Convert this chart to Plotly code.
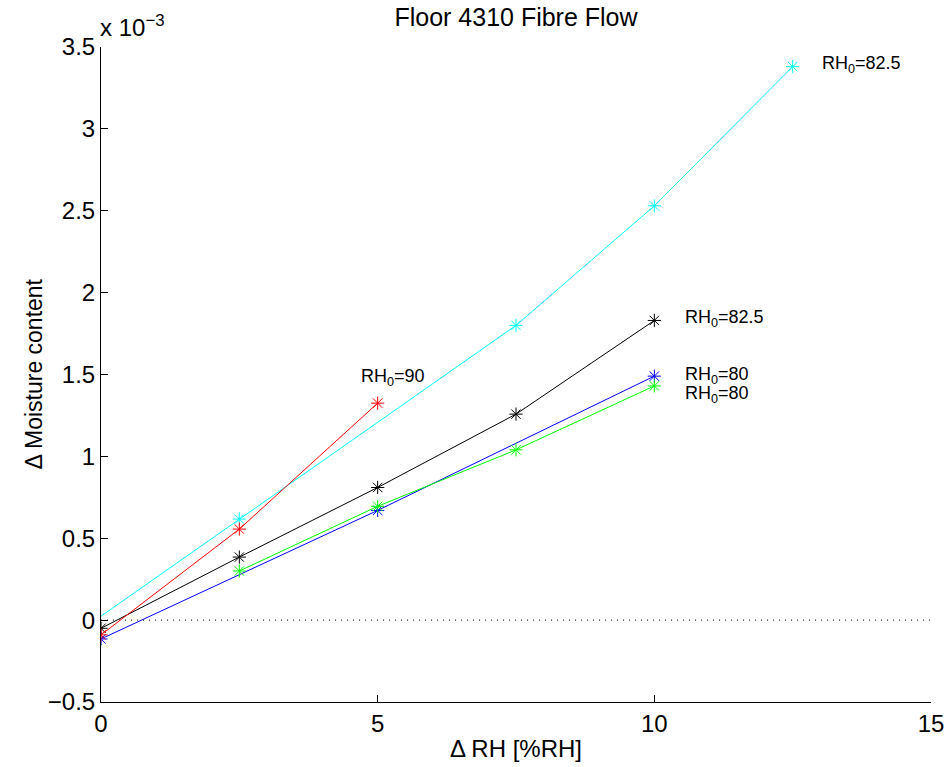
import plotly.graph_objects as go

# Values in units of 1e-3 (axis shows "x 10^-3")
cyan_x = [0, 2.5, 5, 7.5, 10, 12.5]
cyan_y = [0.024, 0.617, 1.21, 1.80, 2.53, 3.38]
cyan_mx = [2.5, 7.5, 10, 12.5]
cyan_my = [0.617, 1.80, 2.53, 3.38]

red_x = [0, 2.5, 5]
red_y = [-0.09, 0.556, 1.325]

black_x = [0, 2.5, 5, 7.5, 10]
black_y = [-0.05, 0.385, 0.81, 1.258, 1.83]

blue_x = [0, 5, 10]
blue_y = [-0.115, 0.67, 1.49]

green_x = [2.5, 5, 7.5, 10]
green_y = [0.30, 0.695, 1.04, 1.43]

labels = ["RH<sub>0</sub>=82.5", "RH<sub>0</sub>=82.5", "RH<sub>0</sub>=80", "RH<sub>0</sub>=80", "RH<sub>0</sub>=90"]
label_x = [13.0, 10.52, 10.52, 10.52, 4.66]
label_y = [3.395, 1.84, 1.495, 1.375, 1.48]

x_ticks = [0, 5, 10, 15]
y_ticks = [-0.5, 0, 0.5, 1, 1.5, 2, 2.5, 3, 3.5]
y_ticktext = ["\u22120.5", "0", "0.5", "1", "1.5", "2", "2.5", "3", "3.5"]

FONT = "Liberation Sans, Arial, sans-serif"

fig = go.Figure()

# zero reference line
fig.add_trace(go.Scatter(x=[0, 15], y=[0, 0], mode="lines",
                         line=dict(color="black", width=1, dash="1px,5px"),
                         showlegend=False, hoverinfo="skip"))

def add_series(xs, ys, color, mx=None, my=None):
    mk = dict(symbol="asterisk-open", size=11, line=dict(color=color, width=1), color=color)
    if mx is None:
        fig.add_trace(go.Scatter(x=xs, y=ys, mode="lines+markers",
                                 line=dict(color=color, width=1), marker=mk, showlegend=False))
    else:
        fig.add_trace(go.Scatter(x=xs, y=ys, mode="lines",
                                 line=dict(color=color, width=1), showlegend=False))
        fig.add_trace(go.Scatter(x=mx, y=my, mode="markers", marker=mk, showlegend=False))

add_series(cyan_x, cyan_y, "#00ffff", cyan_mx, cyan_my)
add_series(black_x, black_y, "#000000")
add_series(blue_x, blue_y, "#0000ff")
add_series(green_x, green_y, "#00ff00")
add_series(red_x, red_y, "#ff0000")

for t, x, y in zip(labels, label_x, label_y):
    fig.add_annotation(x=x, y=y, text=t, showarrow=False, xanchor="left", yanchor="middle",
                       font=dict(family=FONT, size=18, color="black"))

fig.add_annotation(xref="paper", yref="paper", x=0, y=1.0, xshift=-3, yshift=4,
                   text="x 10<sup>\u22123</sup>",
                   showarrow=False, xanchor="left", yanchor="bottom",
                   font=dict(family=FONT, size=24, color="black"))

# y-axis title as rotated annotation for exact placement
fig.add_annotation(xref="paper", yref="paper", x=0, y=0.5, xshift=-68, text="\u0394 Moisture content",
                   textangle=-90, showarrow=False, xanchor="center", yanchor="middle",
                   font=dict(family=FONT, size=23, color="black"))

fig.update_layout(
    width=949, height=767,
    margin=dict(l=101, r=18, t=47, b=65),
    paper_bgcolor="white", plot_bgcolor="white",
    font=dict(family=FONT, color="black"),
    title=dict(text="Floor 4310 Fibre Flow", xref="paper", x=0.5, xanchor="center",
               y=1 - 8 / 767, yanchor="top", font=dict(family=FONT, size=25, color="black")),
    xaxis=dict(range=[0, 15], tickvals=x_ticks, ticks="inside", ticklen=7, tickcolor="black",
               showline=True, linecolor="black", linewidth=1, showgrid=False, zeroline=False,
               automargin=False, tickfont=dict(size=24),
               title=dict(text="\u0394 RH [%RH]", font=dict(size=24), standoff=4)),
    yaxis=dict(range=[-0.5, 3.5], tickvals=y_ticks, ticktext=y_ticktext, ticks="inside", ticklen=7,
               tickcolor="black", showline=True, linecolor="black", linewidth=1, showgrid=False,
               zeroline=False, automargin=False, tickfont=dict(size=24)),
)

fig.write_html("out.html", config={"displayModeBar": False},
               post_script="document.body.style.margin='0';")
